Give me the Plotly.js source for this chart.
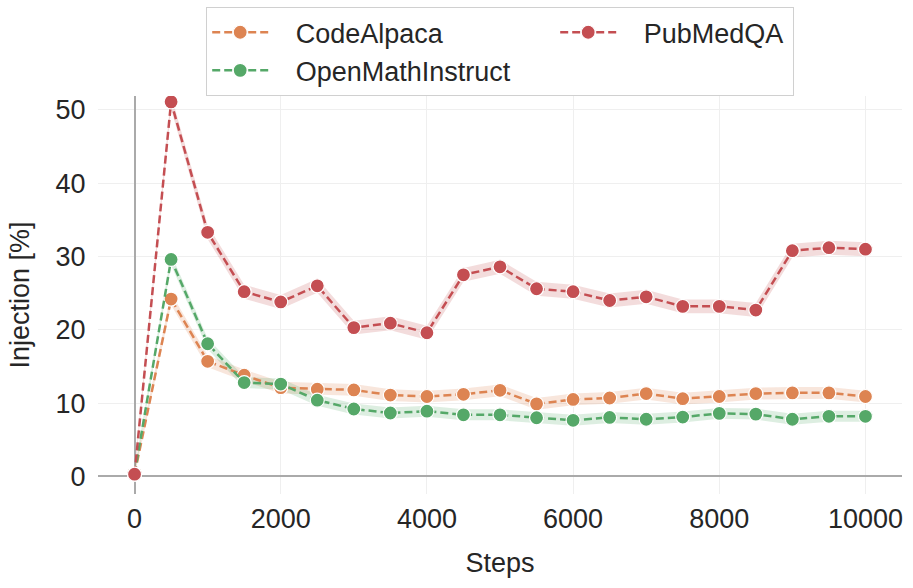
<!DOCTYPE html>
<html>
<head>
<meta charset="utf-8">
<script src="https://cdn.plot.ly/plotly-3.0.1.min.js"></script>
<style>html,body{margin:0;padding:0;background:#fff;}#chart{width:913px;height:588px;}</style>
</head>
<body>
<div id="chart"></div>
<script>
// ---- data ----
const steps = [0,500,1000,1500,2000,2500,3000,3500,4000,4500,5000,5500,6000,6500,7000,7500,8000,8500,9000,9500,10000];
const codeAlpaca = [0.3,24.2,15.7,13.8,12.1,11.9,11.8,11.1,10.9,11.2,11.75,9.9,10.5,10.7,11.3,10.6,10.9,11.3,11.4,11.4,10.9];
const openMath   = [0.3,29.6,18.1,12.8,12.6,10.4,9.2,8.65,8.9,8.4,8.4,8.0,7.65,8.05,7.8,8.1,8.6,8.5,7.8,8.2,8.2];
const pubMedQA   = [0.3,51.1,33.3,25.2,23.8,26.0,20.3,20.9,19.6,27.5,28.6,25.6,25.2,24.0,24.5,23.2,23.2,22.7,30.8,31.2,31.0];
// estimated half-width of the shaded confidence band for each series
const codeAlpacaBand = 0.8;
const openMathBand   = 0.75;
const pubMedQABand   = 0.95;
const seriesNames = ['CodeAlpaca','OpenMathInstruct','PubMedQA'];
const xTicks = [0,2000,4000,6000,8000,10000];
const yTicks = [0,10,20,30,40,50];

const colors = ['#DD8452','#55A868','#C44E52'];
const bandColors = ['rgba(221,132,82,0.2)','rgba(85,168,104,0.2)','rgba(196,78,82,0.2)'];
const series = [codeAlpaca, openMath, pubMedQA];
const bands = [codeAlpacaBand, openMathBand, pubMedQABand];
const ranks = [1,3,2];
const legendWidths = [277,277,166];
const pad = '\u00a0\u00a0\u00a0';

const traces = [];
series.forEach((ys,i)=>{
  const upper = ys.map(v=>v+bands[i]);
  const lower = ys.map(v=>Math.max(v-bands[i],0));
  traces.push({
    x: steps.concat(steps.slice().reverse()),
    y: upper.concat(lower.slice().reverse()),
    type:'scatter', mode:'lines', fill:'toself',
    fillcolor: bandColors[i], line:{width:0, color:'rgba(0,0,0,0)'},
    hoverinfo:'skip', showlegend:false
  });
});
series.forEach((ys,i)=>{
  traces.push({
    x: steps, y: ys, name: pad + seriesNames[i],
    type:'scatter', mode:'lines+markers',
    line:{color:colors[i], width:2.5, dash:'8px,4px'},
    marker:{color:colors[i], size:14, line:{color:'#ffffff', width:1.2}},
    legendrank: ranks[i], legendwidth: legendWidths[i]
  });
});

const fontFam = '"Liberation Sans", Arial, Helvetica, sans-serif';
const layout = {
  width:913, height:588,
  margin:{l:98, r:11, t:96, b:94, pad:0, autoexpand:false},
  paper_bgcolor:'#ffffff', plot_bgcolor:'#ffffff',
  font:{family:fontFam, size:27, color:'#262626'},
  showlegend:true,
  legend:{
    orientation:'h', x:0.5, xanchor:'center', y:1, yanchor:'bottom',
    bgcolor:'#ffffff', bordercolor:'#d0d0d0', borderwidth:1.2,
    font:{family:fontFam, size:27, color:'#262626'},
    itemwidth:56, traceorder:'normal'
  },
  xaxis:{
    range:[-500,10500], tickvals:xTicks, ticktext:xTicks.map(String),
    showgrid:true, gridcolor:'#efefef', gridwidth:1,
    zeroline:true, zerolinecolor:'#aaaaaa', zerolinewidth:2,
    showline:false, ticks:'outside', ticklen:1, tickcolor:'rgba(0,0,0,0)',
    tickfont:{size:27},
    title:{text:'Steps', font:{size:27}, standoff:19},
    automargin:false
  },
  yaxis:{
    range:[-2.4,51.9], tickvals:yTicks, ticktext:yTicks.map(String),
    showgrid:true, gridcolor:'#efefef', gridwidth:1,
    zeroline:true, zerolinecolor:'#aaaaaa', zerolinewidth:2,
    showline:false, ticks:'outside', ticklen:6, tickcolor:'rgba(0,0,0,0)',
    tickfont:{size:27},
    title:{text:'Injection [%]', font:{size:27}, standoff:18},
    automargin:false
  }
};
Plotly.newPlot('chart', traces, layout, {displayModeBar:false, staticPlot:true});
</script>
</body>
</html>
